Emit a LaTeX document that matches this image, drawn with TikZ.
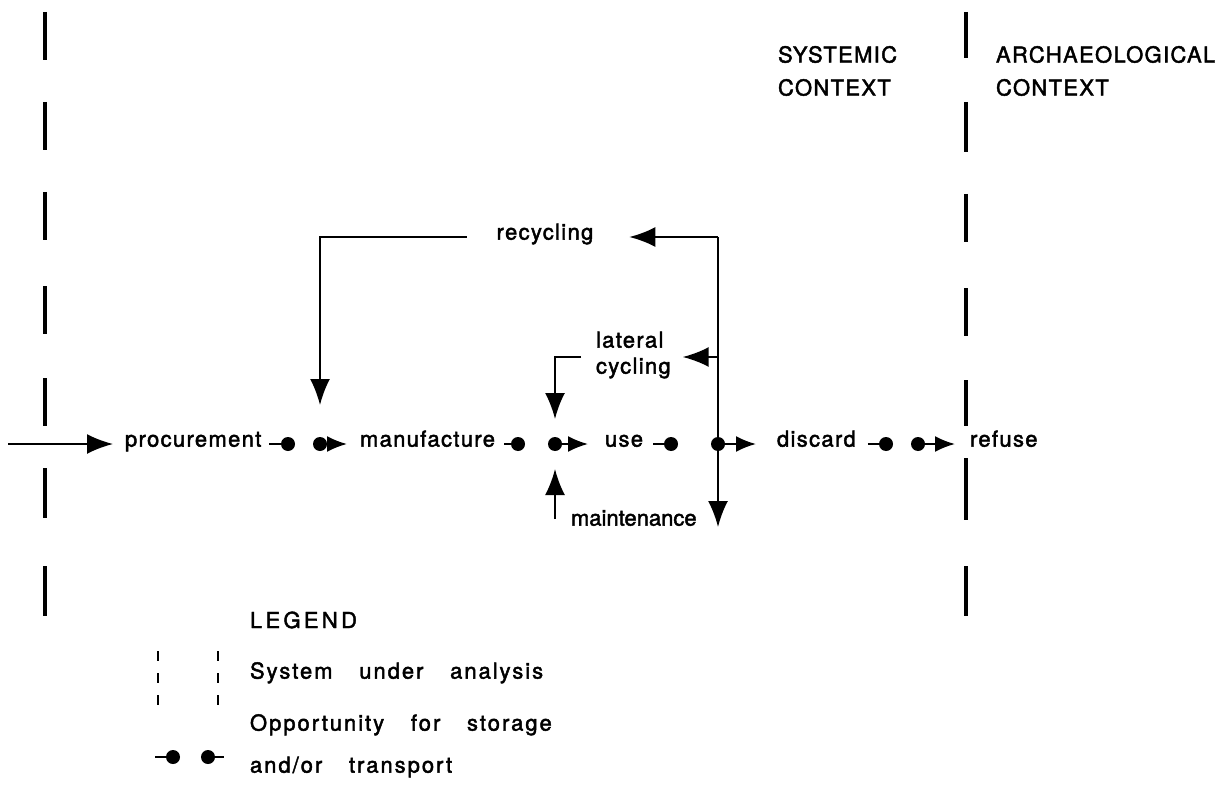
\documentclass[tikz,border=0pt]{standalone}
\usepackage{fontspec}
\setmainfont{TeX Gyre Heros}[LetterSpace=6, FakeBold=2]
\newfontfamily\tightfont{TeX Gyre Heros}[LetterSpace=0, FakeBold=2]
\newfontfamily\legendfont{TeX Gyre Heros}[LetterSpace=9, WordSpace=3.3, FakeBold=2]
\newfontfamily\widefont{TeX Gyre Heros}[LetterSpace=15, FakeBold=2]
\usetikzlibrary{arrows.meta}

\begin{document}
\begin{tikzpicture}[x=1pt,y=-1pt,
  every node/.style={inner sep=0pt, outer sep=0pt},
  lbl/.style={font=\fontsize{22}{26}\selectfont},
  lgtxt/.style={font=\legendfont\fontsize{22}{26}\selectfont},
  ctx/.style={font=\fontsize{22}{33}\selectfont, align=left, anchor=west},
  conn/.style={line width=2pt},
  bighead/.tip={Latex[length=26pt, width=20pt]},
  smallhead/.tip={Latex[length=20pt, width=16pt]},
  arr/.style={conn, -bighead},
  sarr/.style={conn, -smallhead},
  dot/.style={circle, fill=black, minimum size=14pt},
  sysline/.style={line width=3.5pt},
  lgdash/.style={line width=2.4pt}
]
\fill[white] (0,0) rectangle (1230,786);
\useasboundingbox (0,0) rectangle (1230,786);

% boundaries of the system under analysis
\foreach \a/\b in {12/60, 102/150, 192/240, 286/334, 378/426, 468/518, 566/616}
  \draw[sysline] (45,\a) -- (45,\b);
\foreach \a/\b in {12/58, 102/152, 194/242, 288/336, 380/426, 458/520, 566/616}
  \draw[sysline] (966,\a) -- (966,\b);

% context headings
\node[ctx] (sys) at (778,71) {SYSTEMIC\\CONTEXT};
\node[ctx] (arc) at (996,71) {ARCHAEOLOGICAL\\CONTEXT};

% stages of the life history
\node[lbl, anchor=mid west] (proc) at (125,444) {procurement};
\node[lbl, anchor=mid west] (manu) at (360,444) {manufacture};
\node[lbl, anchor=mid west] (use)  at (605,444) {use};
\node[lbl, anchor=mid west] (disc) at (777,444) {discard};
\node[lbl, anchor=mid west] (ref)  at (970,444) {refuse};

% storage / transport points
\node[dot] (pa) at (288,444) {};
\node[dot] (pb) at (320,444) {};
\node[dot] (ma) at (518,444) {};
\node[dot] (ua) at (555,444) {};
\node[dot] (ub) at (671,444) {};
\node[dot] (da) at (718,444) {};
\node[dot] (db) at (886,444) {};
\node[dot] (dc) at (918,444) {};

% main flow
\coordinate (in) at (8,444);
\draw[arr, shorten >=12pt] (in) -- (proc.mid west);
\draw[conn, shorten <=8pt] (proc.mid east) -- (pa);
\draw[sarr, shorten >=13pt] (pb) -- (manu.mid west);
\draw[conn, shorten <=9pt] (manu.mid east) -- (ma);
\draw[sarr, shorten >=17pt] (ua) -- (use.mid west);
\draw[conn, shorten <=10pt] (use.mid east) -- (ub);
\draw[sarr, shorten >=21pt] (da) -- (disc.mid west);
\draw[conn, shorten <=12pt] (disc.mid east) -- (db);
\draw[sarr, shorten >=15pt] (dc) -- (ref.mid west);

% recycling loop
\node[lbl, anchor=mid] (recyc) at (545,237) {recycling};
\coordinate (rc) at (718,237);
\coordinate (mend) at (718,527);
\draw[arr, shorten >=36pt] (rc) -- (recyc.mid east);
\draw[conn] (rc) -- (da);
\draw[arr] (da) -- (mend);
\draw[arr, shorten <=30pt, shorten >=32pt] (recyc.mid west) -| (pb);

% lateral cycling
\node[lbl, align=left, anchor=west] (lat) at (596,355) {lateral\\cycling};
\coordinate (lt) at (718,357);
\coordinate (lc) at (581,357);
\draw[arr, shorten >=12pt] (lt) -- (lat.east |- lt);
\draw[arr, shorten >=18pt] (lc) -| (ua);

% maintenance
\node[lbl, font=\tightfont\fontsize{22}{26}\selectfont, anchor=mid west] (maint) at (571,523) {maintenance};
\coordinate (mb) at (555,519);
\draw[arr, shorten >=18pt] (mb) -- (ua);

% legend
\node[font=\widefont\fontsize{22}{26}\selectfont, anchor=west] (lg) at (250,620) {LEGEND};
\foreach \x in {158,218}
  \foreach \a/\b in {651/661, 673/683, 695/705}
    \draw[lgdash] (\x,\a) -- (\x,\b);
\node[lgtxt, anchor=mid west] (sua) at (250,676) {System under analysis};
\node[lgtxt, anchor=mid west] (opp) at (250,728) {Opportunity for storage};
\node[lgtxt, anchor=mid west] (ando) at (250,770) {and/or transport};
\node[dot] (la) at (173,757) {};
\node[dot] (lb) at (208,757) {};
\coordinate (la0) at (155,757);
\coordinate (lb1) at (224,757);
\draw[conn] (la0) -- (la);
\draw[conn] (lb) -- (lb1);
\end{tikzpicture}
\end{document}
